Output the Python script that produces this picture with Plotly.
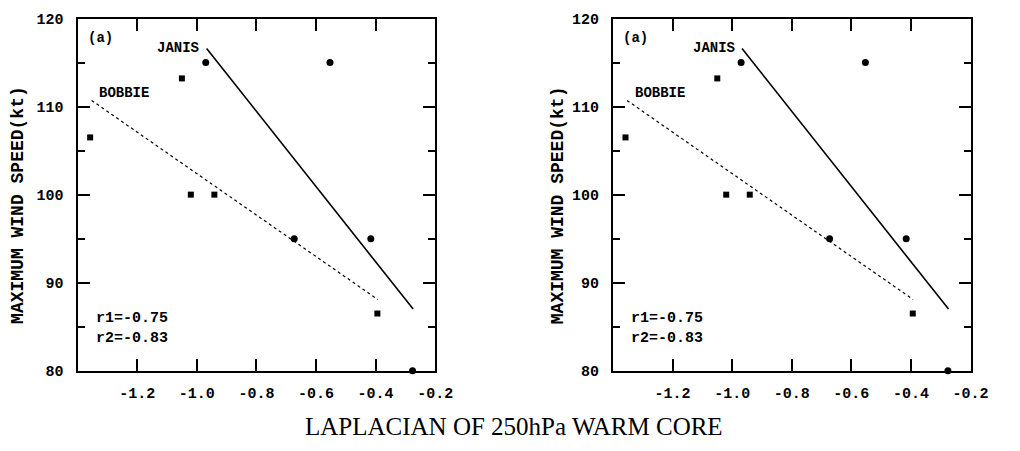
import plotly.graph_objects as go

# ---- data ----
janis_x = [-0.97, -0.553, -0.673, -0.416, -0.276]
janis_y = [115, 115, 95, 95, 80]
bobbie_x = [-1.358, -1.05, -1.02, -0.941, -0.394]
bobbie_y = [106.5, 113.2, 100, 100, 86.5]
janis_fit_x = [-0.967, -0.274]
janis_fit_y = [116.6, 87.0]
bobbie_fit_x = [-1.353, -0.393]
bobbie_fit_y = [110.7, 88.1]
x_tick_vals = [-1.2, -1.0, -0.8, -0.6, -0.4, -0.2]
x_tick_text = ["-1.2", "-1.0", "-0.8", "-0.6", "-0.4", "-0.2"]
y_tick_vals = [80, 90, 100, 110, 120]
y_tick_text = ["80", "90", "100", "110", "120"]
r_text = "r1=-0.75<br>r2=-0.83"
y_title = "MAXIMUM WIND SPEED(kt)"
x_title = "LAPLACIAN OF 250hPa WARM CORE"

W, H = 1020, 451
MONO = "Liberation Mono"

fig = go.Figure()

panels = [("x", "y", 79, 443), ("x2", "y2", 624, 988)]
top_px, bot_px = 12, 378

for i, (xa, ya, l, r) in enumerate(panels):
    fig.add_trace(go.Scatter(x=bobbie_fit_x, y=bobbie_fit_y, mode="lines",
                             line=dict(color="black", width=1.2, dash="dot"),
                             xaxis=xa, yaxis=ya, showlegend=False))
    fig.add_trace(go.Scatter(x=janis_fit_x, y=janis_fit_y, mode="lines",
                             line=dict(color="black", width=1.6),
                             xaxis=xa, yaxis=ya, showlegend=False))
    fig.add_trace(go.Scatter(x=janis_x, y=janis_y, mode="markers",
                             marker=dict(symbol="circle", size=7, color="black"),
                             xaxis=xa, yaxis=ya, showlegend=False, cliponaxis=False))
    fig.add_trace(go.Scatter(x=bobbie_x, y=bobbie_y, mode="markers",
                             marker=dict(symbol="square", size=6, color="black"),
                             xaxis=xa, yaxis=ya, showlegend=False, cliponaxis=False))
    sfx = "" if i == 0 else "2"
    axis_common = dict(showline=True, linecolor="black", linewidth=2, mirror="ticks",
                       ticks="inside", ticklen=12, tickwidth=1.5, tickcolor="black",
                       showgrid=False, zeroline=False,
                       tickfont=dict(family=MONO, size=15, color="black", weight="bold"))
    fig.layout["xaxis" + sfx] = dict(axis_common, domain=[l / W, r / W], range=[-1.4, -0.2],
                                     tickvals=x_tick_vals, ticktext=x_tick_text,
                                     anchor="y" + sfx, ticklabelstandoff=7)
    fig.layout["yaxis" + sfx] = dict(axis_common, domain=[1 - bot_px / H, 1 - top_px / H],
                                     range=[80, 120], tickvals=y_tick_vals, ticktext=y_tick_text,
                                     anchor="x" + sfx, ticklabelstandoff=9,
                                     minor=dict(dtick=5, ticks="inside", ticklen=7,
                                                tickwidth=1.5, tickcolor="black"))
    ann_font = dict(family=MONO, size=14, color="black", weight="bold")
    fig.add_annotation(x=-1.372, y=117.8, xref=xa, yref=ya, text="(a)", showarrow=False,
                       xanchor="left", font=ann_font)
    fig.add_annotation(x=-1.062, y=116.6, xref=xa, yref=ya, text="JANIS", showarrow=False,
                       font=ann_font)
    fig.add_annotation(x=-1.243, y=111.5, xref=xa, yref=ya, text="BOBBIE", showarrow=False,
                       font=ann_font)
    fig.add_annotation(x=-1.345, y=84.8, xref=xa, yref=ya, text=r_text, showarrow=False,
                       xanchor="left", align="left",
                       font=dict(family=MONO, size=15, color="black", weight="bold"))
    lab_x = [19, 568][i]
    fig.add_annotation(x=lab_x / W, y=1 - 206 / H, xref="paper", yref="paper", text=y_title,
                       textangle=-90, showarrow=False, xanchor="center", yanchor="middle",
                       font=dict(family=MONO, size=18, color="black", weight="bold"))

fig.add_annotation(x=523 / W, y=1 - 436 / H, xref="paper", yref="paper", text=x_title,
                   showarrow=False, xanchor="center", yanchor="middle",
                   font=dict(family="Liberation Serif", size=25, color="black"))

fig.update_layout(width=W, height=H, margin=dict(l=0, r=0, t=0, b=0),
                  paper_bgcolor="white", plot_bgcolor="white")
fig.write_html("out.html")
